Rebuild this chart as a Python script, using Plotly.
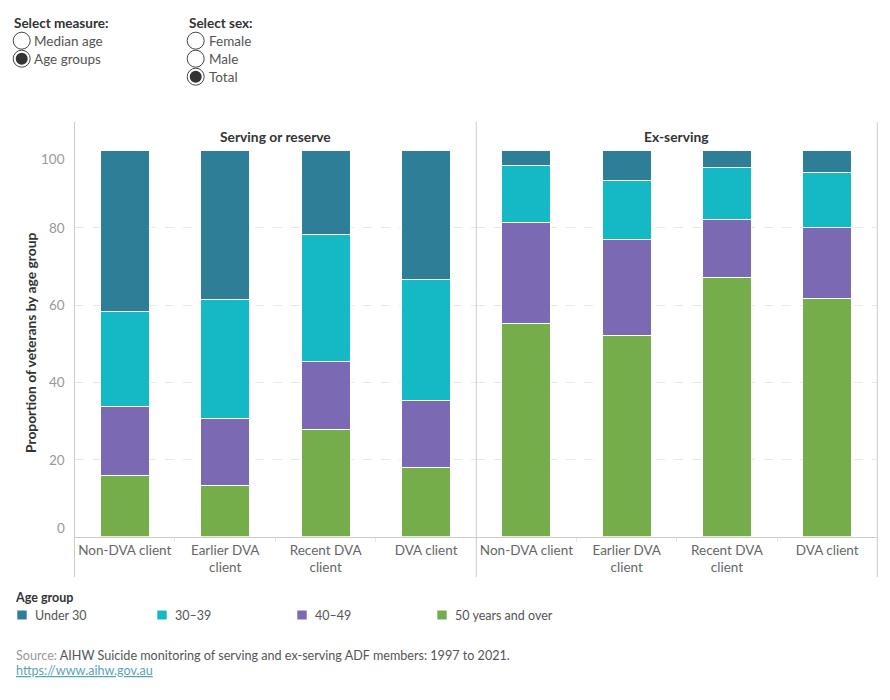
import plotly.graph_objects as go

# ---------------- data ----------------
categories = ["Non-DVA client", "Earlier DVA client", "Recent DVA client", "DVA client"]
category_labels = ["Non-DVA client", "Earlier DVA<br>client", "Recent DVA<br>client", "DVA client"]
panels = ["Serving or reserve", "Ex-serving"]
age_groups = ["Under 30", "30–39", "40–49", "50 years and over"]
age_colors = ["#2E7E98", "#14B9C5", "#7B69B4", "#75AD4A"]

serving_under30 = [41.6, 38.5, 21.6, 33.3]
serving_30_39 = [24.8, 31.0, 32.9, 31.5]
serving_40_49 = [17.8, 17.3, 17.8, 17.4]
serving_50plus = [15.8, 13.2, 27.7, 17.8]

ex_under30 = [3.8, 7.7, 4.3, 5.6]
ex_30_39 = [14.7, 15.4, 13.5, 14.3]
ex_40_49 = [26.2, 24.7, 15.0, 18.4]
ex_50plus = [55.3, 52.2, 67.2, 61.7]

y_ticks = [0, 20, 40, 60, 80, 100]

measure_options = ["Median age", "Age groups"]
sex_options = ["Female", "Male", "Total"]

FONT = "Lato"
W, H = 890, 700


def px(x):
    return x / W


def py(y):
    return 1 - y / H


fig = go.Figure()

panel_data = [
    [serving_under30, serving_30_39, serving_40_49, serving_50plus],
    [ex_under30, ex_30_39, ex_40_49, ex_50plus],
]
axes = ["x", "x2"]

for p, series in enumerate(panel_data):
    # stack bottom-up: 50+, 40-49, 30-39, Under 30
    for i in [3, 2, 1, 0]:
        fig.add_trace(go.Bar(
            x=categories, y=series[i], name=age_groups[i],
            marker=dict(color=age_colors[i], line=dict(color="white", width=1)),
            width=0.49, xaxis=axes[p], yaxis="y",
            showlegend=False,
            hovertemplate="%{x}<br>" + age_groups[i] + ": %{y:.1f}%<extra>" + panels[p] + "</extra>",
        ))

left, mid, right = 74.5, 476.3, 877.3
base_y, top_y = 536.7, 150.7

xcommon = dict(
    type="category", categoryorder="array", categoryarray=categories,
    tickvals=categories, ticktext=category_labels,
    tickfont=dict(family=FONT, size=13.5, color="#666"), tickangle=0,
    showline=True, linecolor="#cccccc", linewidth=1, automargin=False,
    showgrid=False, zeroline=False, ticks="outside", tickson="boundaries",
    ticklen=4, tickcolor="#e6e6e6", fixedrange=True, ticklabelstandoff=1,
)
fig.update_layout(
    width=W, height=H,
    margin=dict(l=0, r=0, t=0, b=0, autoexpand=False),
    paper_bgcolor="white", plot_bgcolor="white",
    barmode="stack", bargap=0.51,
    font=dict(family=FONT, color="#555"),
    xaxis=dict(domain=[px(left), px(mid)], anchor="y", **xcommon),
    xaxis2=dict(domain=[px(mid), px(right)], anchor="y", **xcommon),
    yaxis=dict(domain=[py(base_y), py(top_y)], range=[0, 100], anchor="x",
               tickvals=y_ticks, showticklabels=False, automargin=False,
               showgrid=True, gridcolor="#e9e9e9", griddash="dash", gridwidth=1,
               zeroline=False, showline=False, fixedrange=True),
    showlegend=False,
)

shapes = []
annotations = []

# panel frame lines
for xx in [left, mid, right]:
    shapes.append(dict(type="line", xref="paper", yref="paper",
                       x0=px(xx), x1=px(xx), y0=py(122), y1=py(577),
                       line=dict(color="#cccccc", width=1)))

# y tick labels (Tableau style: edge labels pulled inward)
for v in y_ticks:
    shift = 0
    if v == 0:
        shift = 9
    elif v == 100:
        shift = -8
    annotations.append(dict(x=px(67), xref="paper", y=v, yref="y", yshift=shift,
                            text=str(v), showarrow=False, xanchor="right", yanchor="middle",
                            font=dict(family=FONT, size=13.5, color="#999")))

# y axis title
annotations.append(dict(x=px(30), y=py(343), xref="paper", yref="paper",
                        text="<b>Proportion of veterans by age group</b>", textangle=-90,
                        showarrow=False, xanchor="center", yanchor="middle",
                        font=dict(family=FONT, size=13.8, color="#333")))

# panel headers
for name, x0, x1 in [(panels[0], left, mid), (panels[1], mid, right)]:
    annotations.append(dict(x=px((x0 + x1) / 2), y=py(136.5), xref="paper", yref="paper",
                            text="<b>" + name + "</b>", showarrow=False,
                            xanchor="center", yanchor="middle",
                            font=dict(family=FONT, size=13.8, color="#333")))

# controls
def radio_group(title, options, selected, x_title, cx, x_text):
    annotations.append(dict(x=px(x_title), y=py(23), xref="paper", yref="paper",
                            text="<b>" + title + "</b>", showarrow=False,
                            xanchor="left", yanchor="middle",
                            font=dict(family=FONT, size=13.5, color="#333")))
    for k, opt in enumerate(options):
        cy = 40.7 + 18 * k
        r = 8.5
        shapes.append(dict(type="circle", xref="paper", yref="paper",
                           x0=px(cx - r), x1=px(cx + r), y0=py(cy + r), y1=py(cy - r),
                           line=dict(color="#444", width=1), fillcolor="white"))
        if opt == selected:
            r2 = 6
            shapes.append(dict(type="circle", xref="paper", yref="paper",
                               x0=px(cx - r2), x1=px(cx + r2), y0=py(cy + r2), y1=py(cy - r2),
                               line=dict(width=0), fillcolor="#333"))
        annotations.append(dict(x=px(x_text), y=py(cy), xref="paper", yref="paper",
                                text=opt, showarrow=False, xanchor="left", yanchor="middle",
                                font=dict(family=FONT, size=13.5, color="#555")))

radio_group("Select measure:", measure_options, "Age groups", 12, 21.7, 31.5)
radio_group("Select sex:", sex_options, "Total", 187, 195.7, 206.5)

# legend
annotations.append(dict(x=px(12.5), y=py(597.3), xref="paper", yref="paper",
                        text="<b>Age group</b>", showarrow=False, xanchor="left", yanchor="middle",
                        font=dict(family=FONT, size=12.5, color="#333")))
for k, g in enumerate(age_groups):
    x0 = 17.3 + 140 * k
    shapes.append(dict(type="rect", xref="paper", yref="paper",
                       x0=px(x0), x1=px(x0 + 9.4), y0=py(619.5), y1=py(610.5),
                       line=dict(width=0), fillcolor=age_colors[k]))
    annotations.append(dict(x=px(x0 + 15.5), y=py(615), xref="paper", yref="paper",
                            text=g, showarrow=False, xanchor="left", yanchor="middle",
                            font=dict(family=FONT, size=12.5, color="#555")))

# source
annotations.append(dict(x=px(13.5), y=py(655), xref="paper", yref="paper",
                        text="<span style='color:#999'>Source:</span> AIHW Suicide monitoring of serving and ex-serving ADF members: 1997 to 2021.",
                        showarrow=False, xanchor="left", yanchor="middle",
                        font=dict(family=FONT, size=12.6, color="#555")))
annotations.append(dict(x=px(13.5), y=py(670.5), xref="paper", yref="paper",
                        text="<u>https://www.aihw.gov.au</u>",
                        showarrow=False, xanchor="left", yanchor="middle",
                        font=dict(family=FONT, size=12.6, color="#5BA3B8")))

fig.update_layout(shapes=shapes, annotations=annotations)

fig.write_html("out.html")
